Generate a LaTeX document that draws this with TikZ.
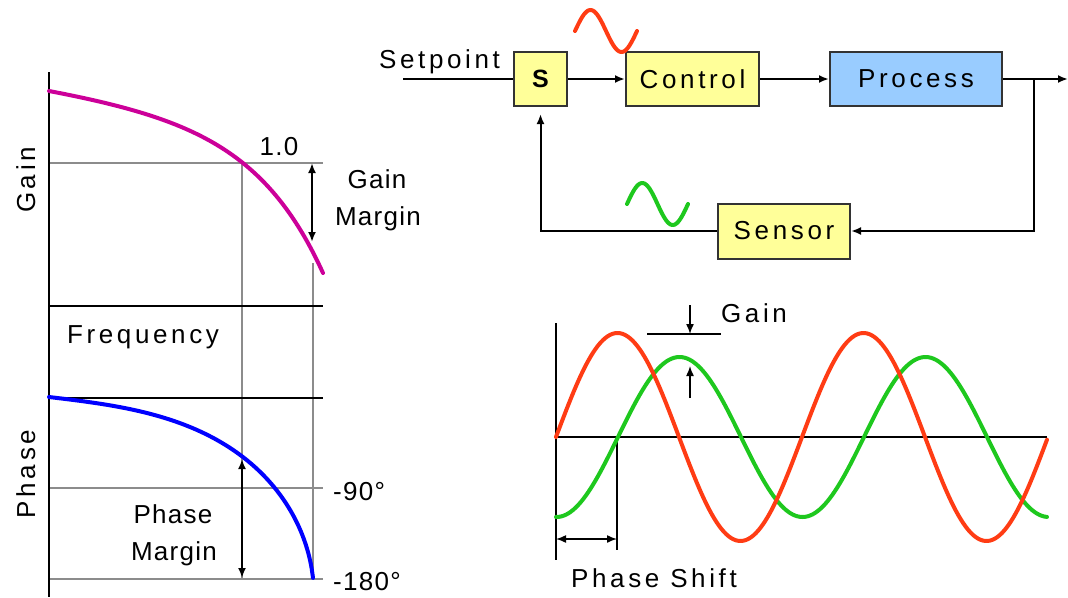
\documentclass[tikz,border=0pt]{standalone}
\usepackage{fontspec}
\setmainfont{Liberation Sans}[LetterSpace=14]
\newfontfamily\tightfont{Liberation Sans}[LetterSpace=5]
\usetikzlibrary{arrows.meta}
\definecolor{mag}{RGB}{204,0,153}
\definecolor{bl}{RGB}{0,0,255}
\definecolor{rd}{RGB}{255,60,20}
\definecolor{gr}{RGB}{30,200,30}
\definecolor{yel}{RGB}{255,255,153}
\definecolor{lblue}{RGB}{153,204,255}
\begin{document}
\begin{tikzpicture}[x=1pt,y=-1pt,
  every node/.style={font=\fontsize{26}{31}\selectfont, inner sep=0pt},
  tight/.style={font=\fontsize{26}{31}\selectfont\tightfont},
  ax/.style={line width=2pt, black},
  gridln/.style={line width=1.2pt, black!45},
  curve/.style={line width=4pt, line cap=round},
  blk/.style={draw=black!80, line width=2pt, minimum height=54pt},
  arr/.style={line width=2pt, -{Latex[length=10pt,width=8pt]}},
  darr/.style={line width=2pt, {Latex[length=10pt,width=8pt]}-{Latex[length=10pt,width=8pt]}},
]
\useasboundingbox[fill=white] (0,0) rectangle (1068,597);

% ---------------- Bode plots ----------------
\draw[gridln] (49,163) -- (323,163);
\draw[gridln] (49,488) -- (323,488);
\draw[gridln] (49,579) -- (323,579);
\draw[gridln] (242,163) -- (242,580);
\draw[gridln] (313,263) -- (313,580);
\draw[ax] (49,72) -- (49,597);
\draw[ax] (49,306) -- (323,306);
\draw[ax] (49,398) -- (323,398);

\draw[mag, curve] plot[domain=0:274, samples=140]
  ({49+\x}, {91+0.15*\x+2.87*(exp(\x/70)-1)});
\draw[bl, curve] plot[domain=0:264, samples=220]
  ({49+\x}, {397+0.12*\x+167*(1-sqrt(1-(\x/265)^3))});

\draw[darr] (312,163) -- (312,242);
\draw[darr] (242,459) -- (242,578);

\node[anchor=base, tight] (t10) at (279,155) {1.0};
\node[anchor=base, tight] (gm1) at (377,188) {Gain};
\node[anchor=base, tight] (gm2) at (378,225) {Margin};
\node[anchor=base] (fq) at (143,343) {Frequency};
\node[anchor=base, tight] (pm1) at (173,523) {Phase};
\node[anchor=base, tight] (pm2) at (174,560) {Margin};
\node[anchor=base west, tight] (d90) at (333,500) {-90°};
\node[anchor=base west, tight] (d180) at (333,590) {-180°};
\node[anchor=base, rotate=90] (gl) at (35,180) {Gain};
\node[anchor=base, rotate=90] (pl) at (35,474) {Phase};

% ---------------- Block diagram ----------------
\node[blk, fill=yel, minimum width=53pt, font=\fontsize{25}{30}\selectfont\bfseries] (S) at (540.5,79) {S};
\node[blk, fill=yel, minimum width=133pt] (C) at (692.5,79) {Control};
\node[blk, fill=lblue, minimum width=172pt] (P) at (916,79) {Process};
\node[blk, fill=yel, minimum width=132pt, minimum height=55pt] (Sen) at (784,231) {Sensor};
\node[anchor=base] (sp) at (439.5,68) {Setpoint};
\coordinate (in) at (403,79);
\coordinate (out) at (1068,79);
\coordinate (br) at (1034,79);

\draw[line width=2pt] (in) -- (S.west);
\draw[arr] (S) -- (C);
\draw[arr] (C) -- (P);
\draw[arr] (P.east) -- (out);
\draw[arr] (br) |- (Sen.east);
\draw[arr, shorten >=7pt] (Sen.west) -| (S.south);

\draw[rd, curve] plot[domain=575:637, samples=50] (\x, {31-21*sin(360/62*(\x-575))});
\draw[gr, curve] plot[domain=627:688, samples=50] (\x, {204-21*sin(360/61*(\x-627))});

% ---------------- Waveforms ----------------
\draw[line width=1.5pt] (556,323) -- (556,560);
\draw[line width=1.5pt] (556,437) -- (1047,437);
\draw[line width=1.5pt] (617,437) -- (617,550);
\draw[darr, line width=1.5pt] (556,539) -- (617,539);
\draw[line width=1.5pt] (647,334) -- (721,334);
\draw[arr, line width=1.5pt] (690,305) -- (690,334);
\draw[arr, line width=1.5pt] (690,398) -- (690,366);

\draw[gr, curve] plot[domain=556:1047, samples=200] (\x, {437-80*sin(360/246*(\x-618))});
\draw[rd, curve] plot[domain=556:1047, samples=200] (\x, {437-104*sin(360/246*(\x-556))});

\node[anchor=base] (wg) at (754,322) {Gain};
\node[anchor=base] (ps) at (654,587) {Phase Shift};
\end{tikzpicture}
\end{document}
